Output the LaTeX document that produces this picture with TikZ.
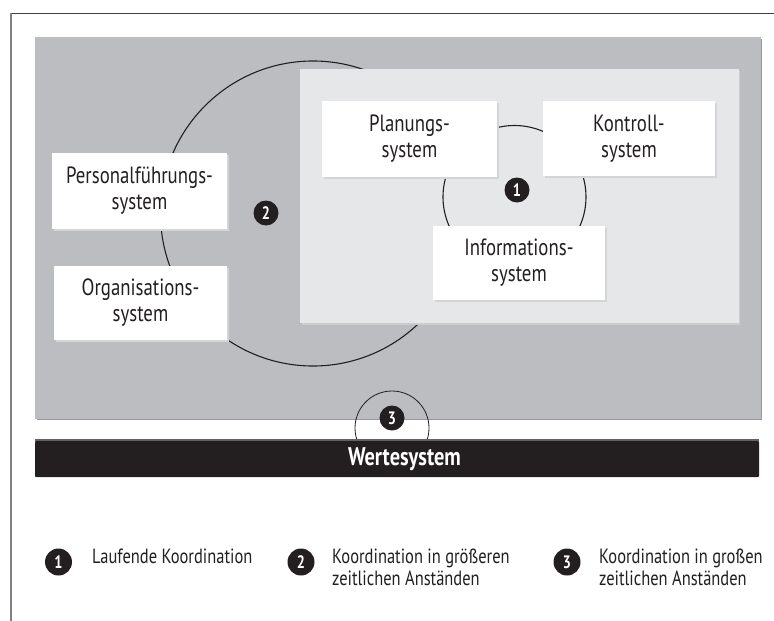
\documentclass[tikz,border=0pt]{standalone}
\usepackage{fontspec}
\setmainfont{PT Sans}[FakeStretch=0.8]
\definecolor{ink}{HTML}{231F20}
\definecolor{outergray}{HTML}{BCBDC0}
\definecolor{outershadow}{HTML}{97989B}
\definecolor{innergray}{HTML}{E6E7E8}
\definecolor{innershadow}{HTML}{CBCCCE}
\definecolor{boxshadow}{HTML}{D4D5D7}
\begin{document}
\begin{tikzpicture}[x=1pt,y=-1pt,
  sysbox/.style={fill=white,minimum width=#1,inner sep=0pt,align=center,text=ink,
     font=\fontsize{23.5}{26}\selectfont},
  badge/.style={circle,fill=ink,text=white,inner sep=0pt,minimum size=25pt,
     font=\bfseries\fontsize{18}{18}\selectfont},
  legtext/.style={anchor=base west,align=left,text=ink,inner sep=0pt,
     font=\fontsize{20.6}{22}\selectfont},
  ring/.style={draw=ink,line width=1.1pt}
]
\useasboundingbox (0,0) rectangle (774,621);
% frame
\draw[draw=ink!85,line width=1pt] (11,13) -- (774,13);
\draw[draw=gray,line width=1.3pt] (11,13) -- (11,621);
% outer grey area
\fill[outershadow] (36.5,38.5) rectangle (762,420);
\fill[outergray] (35,37) rectangle (760.5,418.5);
% big ring 2
\coordinate (c2) at (313,213.5);
\draw[ring] (c2) circle[radius=152.5pt];
% inner area
\fill[innershadow] (301.5,70.5) rectangle (740,324.5);
\fill[innergray] (300,69) rectangle (738.5,323);
% ring 1
\coordinate (c1) at (514.5,197);
\draw[ring] (c1) circle[radius=71.5pt];
% box shadows
\foreach \a/\b/\c/\d in {52/153/227/229, 54/266/227/340, 322/101/497/177, 543/101/715/176, 433/226/605/300}{
  \fill[boxshadow] (\a+1.5,\b+1.5) rectangle (\c+1.5,\d+1.5);
}
% boxes
\node[sysbox=175pt,minimum height=76pt] (pers) at (139.5,191) {Personalführungs-\\system};
\node[sysbox=173pt,minimum height=74pt] (org) at (140.5,303) {Organisations-\\system};
\node[sysbox=175pt,minimum height=76pt] (plan) at (409.5,139) {Planungs-\\system};
\node[sysbox=172pt,minimum height=75pt] (kontr) at (629,138.5) {Kontroll-\\system};
\node[sysbox=172pt,minimum height=74pt] (info) at (519,263) {Informations-\\system};
% ring 3
\coordinate (c3) at (392,428);
\draw[draw=ink,line width=0.8pt] (c3) circle[radius=37pt];
% bar
\fill[ink!70] (35,439) rectangle (759,477);
\fill[ink,rounded corners=1.5pt] (35,441) rectangle (759,477);
\node[text=white,font=\bfseries\fontsize{25.5}{25.5}\selectfont,inner sep=0pt] (werte) at (404.5,459.5) {Wertesystem};
% badges
\node[badge] (b1) at (517,190) {1};
\node[badge] (b2) at (266,213) {2};
\node[badge] (b3) at (392,418) {3};
% legend
\node[badge,minimum size=27pt] (l1) at (58.5,562) {1};
\node[badge,minimum size=27pt] (l2) at (301,562) {2};
\node[badge,minimum size=27pt] (l3) at (567,562) {3};
\node[legtext] (t1) at (92,563) {Laufende Koordination};
\node[legtext] (t2) at (332,585) {Koordination in größeren\\zeitlichen Anständen};
\node[legtext] (t3) at (599,585) {Koordination in großen\\zeitlichen Anständen};
\end{tikzpicture}
\end{document}
